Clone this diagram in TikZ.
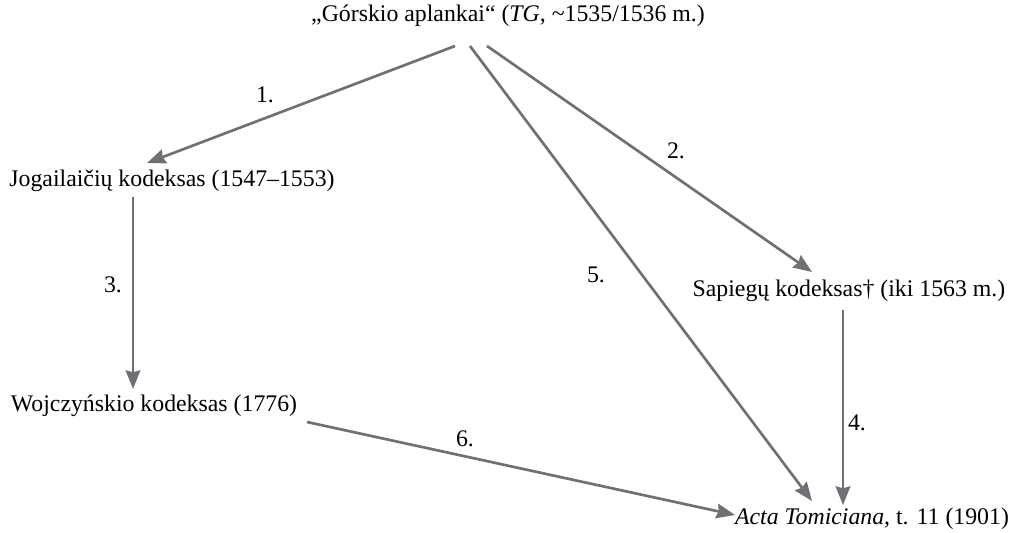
\documentclass[tikz,border=0pt]{standalone}
\usepackage{fontspec}
\setmainfont{Liberation Serif}
\usetikzlibrary{calc,arrows.meta}

\definecolor{arrgray}{RGB}{112,112,116}
\tikzset{every picture/.style={line width=0.75pt}}
\tikzset{
  txt/.style={inner sep=0pt,font=\fontsize{17.85}{21}\selectfont},
  arr/.style={draw=arrgray,line width=2pt,-{Stealth[length=14pt,width=11pt,inset=1.5pt]}}
}

\begin{document}
\begin{tikzpicture}[x=0.75pt,y=0.75pt,yscale=-1,xscale=1]
\useasboundingbox (0,0) rectangle (1014,532);

% Text Node
\node[txt] (top) at (508,16) {„Górskio aplankai“ (\textit{TG}, \textasciitilde1535/1536 m.)};
% Text Node
\node[txt] (jog) at (172,181) {Jogailaičių kodeksas (1547–1553)};
% Text Node
\node[txt] (sap) at (849,291) {Sapiegų kodeksas† (iki 1563 m.)};
% Text Node
\node[txt] (wojc) at (154,406) {Wojczyńskio kodeksas (1776)};
% Text Node
\node[txt] (acta) at (872,519) {\textit{Acta Tomiciana}, t. 11 (1901)};

%Straight Lines 1.
\draw[arr] ($(top)+(-53,30)$) -- ($(jog)+(-25,-18)$);
%Straight Lines 2.
\draw[arr] ($(top)+(-21,30)$) -- ($(sap)+(-37,-19)$);
%Straight Lines 5.
\draw[arr] ($(top)+(-38,30)$) -- ($(acta)+(-60,-18)$);
%Straight Lines 3.
\draw[arr] ($(jog)+(-39,16)$) -- ($(wojc)+(-21,-17)$);
%Straight Lines 4.
\draw[arr] ($(sap)+(-6,19)$) -- ($(acta)+(-29,-14)$);
%Straight Lines 6.
\draw[arr] ($(wojc)+(153,16)$) -- ($(acta)+(-137,-4)$);

% Text Node
\node[txt] (l1) at (265,95) {1.};
% Text Node
\node[txt] (l2) at (676,151) {2.};
% Text Node
\node[txt] (l3) at (113,285) {3.};
% Text Node
\node[txt] (l5) at (596,275) {5.};
% Text Node
\node[txt] (l4) at (857,423) {4.};
% Text Node
\node[txt] (l6) at (465,439) {6.};
\end{tikzpicture}
\end{document}
